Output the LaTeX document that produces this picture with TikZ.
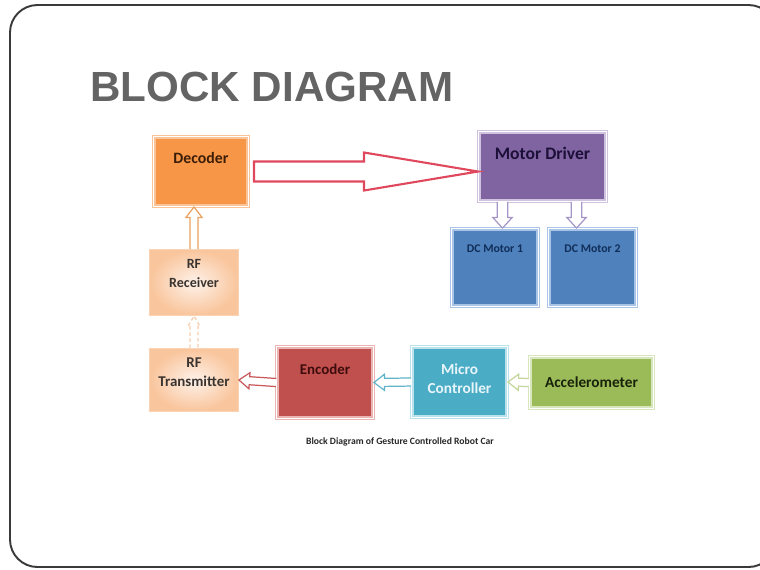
\documentclass[tikz,border=0pt]{standalone}
\usepackage{fontspec}
\setmainfont{Carlito}
\newfontfamily\titlefont{Liberation Sans}
\usetikzlibrary{calc,positioning}

\definecolor{titlegray}{HTML}{646464}
\definecolor{framecolor}{HTML}{3A3A3A}
\definecolor{decfill}{HTML}{F79646}
\definecolor{decline}{HTML}{FBC498}
\definecolor{dectext}{HTML}{3C1E08}
\definecolor{drvfill}{HTML}{8064A2}
\definecolor{drvline}{HTML}{CFC3E0}
\definecolor{drvtext}{HTML}{1C0F38}
\definecolor{motfill}{HTML}{4F81BD}
\definecolor{motline}{HTML}{A9C4E6}
\definecolor{mottext}{HTML}{102E58}
\definecolor{rfinner}{HTML}{FEF2EA}
\definecolor{rfouter}{HTML}{F9C59C}
\definecolor{rfline}{HTML}{FAD3B5}
\definecolor{rftext}{HTML}{3A3430}
\definecolor{encfill}{HTML}{C0504D}
\definecolor{encline}{HTML}{EBB5B4}
\definecolor{enctext}{HTML}{3E0C0C}
\definecolor{micfill}{HTML}{4BACC6}
\definecolor{micline}{HTML}{B9E2EC}
\definecolor{mictext}{HTML}{E8F6FA}
\definecolor{accfill}{HTML}{9BBB59}
\definecolor{accline}{HTML}{D8E6BE}
\definecolor{acctext}{HTML}{18220A}
\definecolor{bigred}{HTML}{E0485E}
\definecolor{recarrow}{HTML}{E9A262}
\definecolor{drvarrow}{HTML}{A596C8}
\definecolor{encarrow}{HTML}{C8585A}
\definecolor{micarrow}{HTML}{62B4CA}
\definecolor{accarrow}{HTML}{C3D69B}
\definecolor{rfarrow}{HTML}{F6CDAE}

\tikzset{
    block/.style={rectangle, inner sep=0pt, line width=0.8pt, double=white, double distance=0.5pt},
    rfblock/.style={rectangle, inner sep=0pt, line width=0.8pt, draw=rfline, inner color=rfinner, outer color=rfouter},
    boxtext/.style={inner sep=0pt, font=\bfseries\fontsize{9}{11}\selectfont, align=center},
    hollowline/.style={line width=0.7pt, fill=white, line join=miter},
}

% hollow block arrow: [options]{from}{to}{half shaft}{half head}
\newcommand{\hollowarrow}[5][]{
    \coordinate (ha) at (#2);
    \coordinate (hb) at (#3);
    \coordinate (hh) at ($(hb)!6pt!(ha)$);
    \draw[#1, hollowline] ($(ha)!#4!90:(hb)$) -- ($(hh)!#4!90:(hb)$) -- ($(hh)!#5!90:(hb)$) -- (hb)
        -- ($(hh)!#5!-90:(hb)$) -- ($(hh)!#4!-90:(hb)$) -- ($(ha)!#4!-90:(hb)$);
}

\begin{document}
\begin{tikzpicture}[x=0.02cm, y=-0.02cm]
    \useasboundingbox (0,0) rectangle (760,569);
    \draw[framecolor, line width=1.1pt, rounded corners=0.55cm] (10,5) rectangle (776,567);

    \node[anchor=base west, inner sep=0pt, text=titlegray,
        font=\titlefont\bfseries\fontsize{24}{28}\selectfont] (title) at (90,101) {BLOCK DIAGRAM};

    \node[block, fill=decfill, draw=decline, minimum width=1.89cm, minimum height=1.39cm] (decoder) at (201,171.5) {};
    \node[boxtext, text=dectext, below=9pt of decoder.north] (decodertext) {Decoder};

    \node[block, fill=drvfill, draw=drvline, minimum width=2.55cm, minimum height=1.39cm] (driver) at (542.5,166.5) {};
    \node[boxtext, text=drvtext, font=\bfseries\fontsize{10}{12}\selectfont, below=9pt of driver.north] (drivertext) {Motor Driver};

    \node[block, fill=motfill, draw=motline, minimum width=1.73cm, minimum height=1.55cm] (motorA) at (495,267.5) {};
    \node[boxtext, text=mottext, font=\bfseries\fontsize{6.7}{8}\selectfont, below=9.5pt of motorA.north] (motorAtext) {DC Motor 1};

    \node[block, fill=motfill, draw=motline, minimum width=1.75cm, minimum height=1.55cm] (motorB) at (592.5,267.5) {};
    \node[boxtext, text=mottext, font=\bfseries\fontsize{6.7}{8}\selectfont, below=9.5pt of motorB.north] (motorBtext) {DC Motor 2};

    \node[rfblock, minimum width=1.77cm, minimum height=1.31cm] (receiver) at (194,282.5) {};
    \node[boxtext, text=rftext, font=\bfseries\fontsize{8}{10.8}\selectfont, yshift=5pt] (receivertext) at (receiver) {RF\\Receiver};

    \node[rfblock, minimum width=1.77cm, minimum height=1.25cm] (transmitter) at (194,380) {};
    \node[boxtext, text=rftext, font=\bfseries\fontsize{8.5}{10.8}\selectfont, yshift=4.5pt] (transmittertext) at (transmitter) {RF\\Transmitter};

    \node[block, fill=encfill, draw=encline, minimum width=1.93cm, minimum height=1.43cm] (encoder) at (325,382.5) {};
    \node[boxtext, text=enctext, font=\bfseries\fontsize{8.5}{10}\selectfont, below=10pt of encoder.north] (encodertext) {Encoder};

    \node[block, fill=micfill, draw=micline, minimum width=1.91cm, minimum height=1.41cm] (micro) at (459.5,382) {};
    \node[boxtext, text=mictext, font=\bfseries\fontsize{8.7}{10.8}\selectfont, yshift=2pt] (microtext) at (micro) {Micro\\Controller};

    \node[block, fill=accfill, draw=accline, minimum width=2.47cm, minimum height=1.03cm,
        text=acctext, font=\bfseries\fontsize{8.7}{10.8}\selectfont] (accel) at (591.5,382.5) {Accelerometer};

    \draw[bigred, line width=1.2pt, fill=white, line join=miter]
        ($(decoder.east)+(5,-10)$) -- ++(110,0) -- ++(0,-9) -- (driver.west |- decoder.east)
        -- ($(decoder.east)+(115,19)$) -- ++(0,-9) -- ($(decoder.east)+(5,10)$) -- cycle;

    \coordinate (drvA) at ($(driver.south)+(-40,0)$);
    \coordinate (drvB) at ($(driver.south)+(34,0)$);
    \hollowarrow[drvarrow]{drvA}{drvA |- motorA.north}{3pt}{5.5pt}
    \hollowarrow[drvarrow]{drvB}{drvB |- motorB.north}{3pt}{5.5pt}

    \hollowarrow[recarrow]{receiver.north}{receiver.north |- decoder.south}{2.3pt}{4.6pt}
    \hollowarrow[rfarrow, dashed, dash pattern=on 2pt off 1.5pt]{transmitter.north}{receiver.south}{2.3pt}{3.5pt}

    \hollowarrow[encarrow]{encoder.west}{transmitter.east}{2.3pt}{4.6pt}
    \hollowarrow[micarrow]{micro.west}{encoder.east}{2.3pt}{4.6pt}
    \hollowarrow[accarrow]{accel.west}{micro.east}{2.3pt}{4.6pt}

    \node[inner sep=0pt, font=\bfseries\fontsize{5.5}{6.5}\selectfont, text=black!85] (caption) at (400,442)
        {Block Diagram of Gesture Controlled Robot Car};
\end{tikzpicture}
\end{document}
